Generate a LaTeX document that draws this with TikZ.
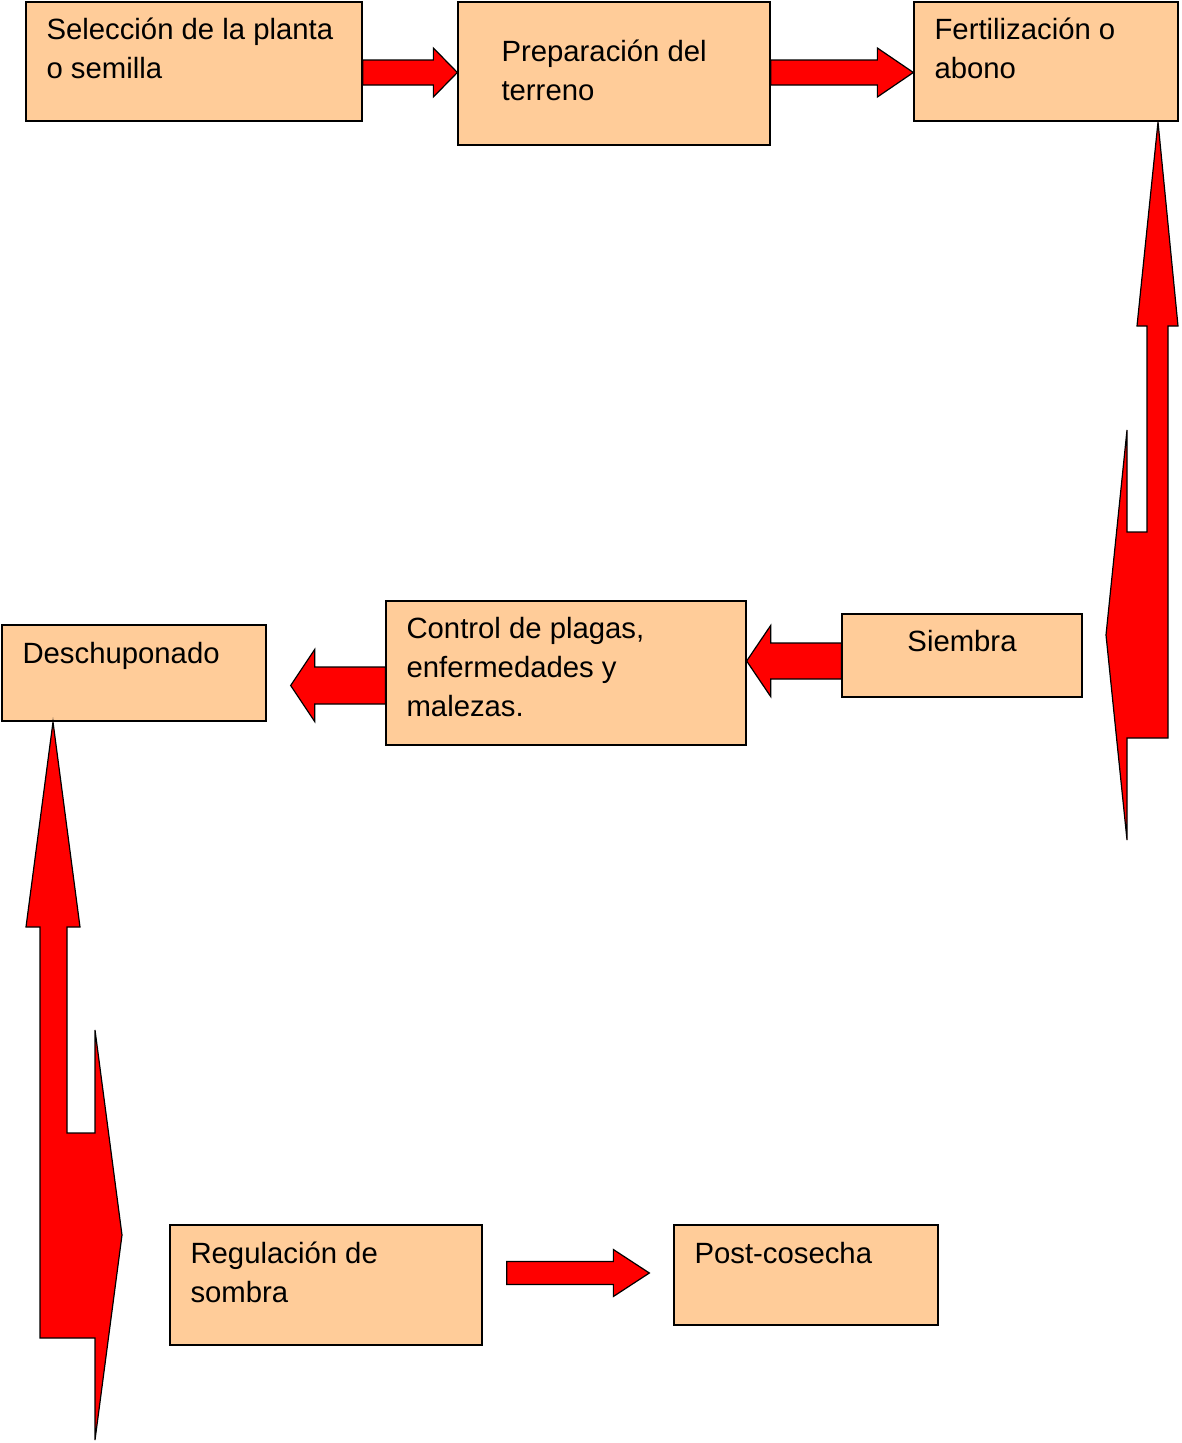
\documentclass[tikz,border=0pt]{standalone}
\usepackage{fontspec}
\setmainfont{Liberation Sans}
\usetikzlibrary{calc}
\definecolor{durazno}{HTML}{FFCC99}
\definecolor{rojo}{HTML}{FF0000}

\begin{document}
\begin{tikzpicture}[x=1pt,y=1pt,
  caja/.style={draw,line width=1.3pt,fill=durazno,inner sep=0pt},
  texto/.style={anchor=base west,align=left,inner sep=0pt,font=\fontsize{29.3}{39}\selectfont},
  flecha/.style={draw,line width=1.2pt,fill=rojo,line join=miter}]
\useasboundingbox (0,0) rectangle (1181,-1443);
% cajas
\node[caja,minimum width=336pt,minimum height=119pt] (sel) at (194,-61.5) {};
\node[caja,minimum width=312pt,minimum height=143pt] (prep) at (614,-73.5) {};
\node[caja,minimum width=264pt,minimum height=119pt] (fert) at (1046,-61.5) {};
\node[caja,minimum width=240pt,minimum height=83pt] (siem) at (962,-655.5) {};
\node[caja,minimum width=360pt,minimum height=144pt] (ctrl) at (566,-673) {};
\node[caja,minimum width=264pt,minimum height=96pt] (desc) at (134,-673) {};
\node[caja,minimum width=312pt,minimum height=120pt] (regu) at (326,-1285) {};
\node[caja,minimum width=264pt,minimum height=100pt] (post) at (806,-1275) {};
% textos (base = ultima linea)
\node[texto] at ($(sel.north west)+(21,-77)$) {Selección de la planta\\o semilla};
\node[texto] at ($(prep.north west)+(44,-99)$) {Preparación del\\terreno};
\node[texto] at ($(fert.north west)+(21,-77)$) {Fertilización o\\abono};
\node[texto,anchor=base] at ($(siem.north)+(0,-38)$) {Siembra};
\node[texto] at ($(ctrl.north west)+(21,-116)$) {Control de plagas,\\enfermedades y\\malezas.};
\node[texto] at ($(desc.north west)+(21,-39)$) {Deschuponado};
\node[texto] at ($(regu.north west)+(21,-78)$) {Regulación de\\sombra};
\node[texto] at ($(post.north west)+(21,-39)$) {Post-cosecha};
% flechas
\coordinate (A) at (sel.east |- 0,-72.5);
\coordinate (B) at (prep.west |- 0,-72.5);
\coordinate (C) at (prep.east |- 0,-72.5);
\coordinate (D) at (fert.west |- 0,-72.5);
\draw[flecha] ($(A)+(0,12.5)$) -- ($(B)+(-24,12.5)$) -- ($(B)+(-24,24.5)$) -- (B)
  -- ($(B)+(-24,-24.5)$) -- ($(B)+(-24,-12.5)$) -- ($(A)+(0,-12.5)$) -- cycle;
\draw[flecha] ($(C)+(0,12.5)$) -- ($(D)+(-36,12.5)$) -- ($(D)+(-36,24.5)$) -- (D)
  -- ($(D)+(-36,-24.5)$) -- ($(D)+(-36,-12.5)$) -- ($(C)+(0,-12.5)$) -- cycle;
\coordinate (E) at (siem.west |- 0,-661);
\coordinate (F) at (ctrl.east |- 0,-661);
\draw[flecha] ($(E)+(0,18)$) -- ($(F)+(24,18)$) -- ($(F)+(24,35.5)$) -- (F)
  -- ($(F)+(24,-35.5)$) -- ($(F)+(24,-18)$) -- ($(E)+(0,-18)$) -- cycle;
\coordinate (G) at (ctrl.west |- 0,-685.5);
\coordinate (H) at ($(desc.east |- 0,-685.5)+(24,0)$);
\draw[flecha] ($(G)+(0,18.5)$) -- ($(H)+(24,18.5)$) -- ($(H)+(24,36)$) -- (H)
  -- ($(H)+(24,-36)$) -- ($(H)+(24,-18.5)$) -- ($(G)+(0,-18.5)$) -- cycle;
\coordinate (I) at ($(regu.east)+(24,12)$);
\coordinate (J) at ($(post.west)+(-24,2)$);
\draw[flecha] ($(I)+(0,11.5)$) -- ($(J)+(-36,11.5)$) -- ($(J)+(-36,23.5)$) -- (J)
  -- ($(J)+(-36,-23.5)$) -- ($(J)+(-36,-11.5)$) -- ($(I)+(0,-11.5)$) -- cycle;
% flechas grandes
\draw[flecha] (1158,-122) -- (1178,-326) -- (1168,-326) -- (1168,-738) -- (1127,-738)
  -- (1127,-840) -- (1106,-635) -- (1127,-430) -- (1127,-532) -- (1147,-532)
  -- (1147,-326) -- (1137,-326) -- cycle;
\draw[flecha] (53,-722) -- (80,-927) -- (67,-927) -- (67,-1133) -- (95,-1133)
  -- (95,-1030) -- (122,-1235) -- (95,-1440) -- (95,-1338) -- (40,-1338)
  -- (40,-927) -- (26,-927) -- cycle;
\end{tikzpicture}
\end{document}
